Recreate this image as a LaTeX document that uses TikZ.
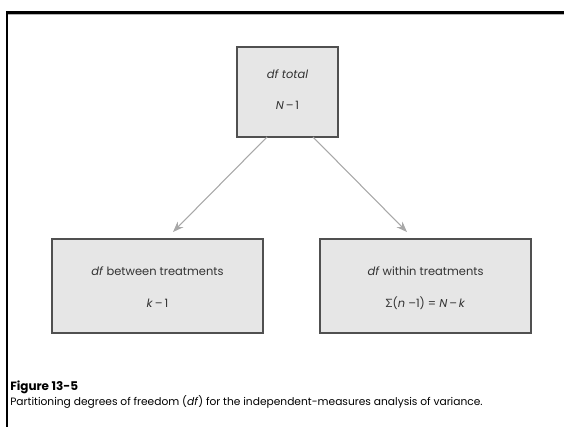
\documentclass[tikz,border=0pt]{standalone}
\usepackage{fontspec}
\setmainfont{Poppins}
\newfontfamily\grk{Lato}
\usetikzlibrary{arrows.meta}
\definecolor{boxfill}{HTML}{E6E6E6}
\definecolor{boxline}{HTML}{505050}
\definecolor{arrowgray}{HTML}{A8A8A8}
\definecolor{txt}{HTML}{333333}
\begin{document}
\begin{tikzpicture}[x=0.75pt,y=-0.75pt,
  dfbox/.style={draw=boxline,fill=boxfill,line width=0.9pt,inner sep=0pt},
  lbl/.style={text=txt,font=\fontsize{8.6}{10}\selectfont,inner sep=0pt},
  arr/.style={draw=arrowgray,line width=0.8pt,-{Stealth[length=8pt,width=6pt]}}]
\useasboundingbox (0,0) rectangle (564,427);
% frame
\draw[line width=2.2pt,black] (7,12.5) -- (564,12.5);
\draw[line width=0.8pt,gray!60] (8,14.6) -- (564,14.6);
\draw[line width=2.2pt,black] (7,11.4) -- (7,427);
% boxes
\node[dfbox,minimum width=101*0.75pt,minimum height=90*0.75pt] (tot) at (287.5,92) {};
\node[dfbox,minimum width=211*0.75pt,minimum height=94*0.75pt] (bet) at (157.5,286) {};
\node[dfbox,minimum width=211*0.75pt,minimum height=94*0.75pt] (wit) at (425.5,286) {};
% texts
\node[lbl] (t1) at (287.5,74) {\textit{df total}};
\node[lbl] (t2) at (287.5,105) {\textit{N}\,–\,1};
\node[lbl] (b1) at (157.5,271) {\textit{df} between treatments};
\node[lbl] (b2) at (157.5,303) {\textit{k}\,–\,1};
\node[lbl] (w1) at (425.5,271) {\textit{df} within treatments};
\node[lbl] (w2) at (425.5,303) {{\grk Σ}(\textit{n} –1) = \textit{N}\,–\,\textit{k}};
% arrows
\coordinate (a1) at (267,137);
\coordinate (a2) at (313,137);
\coordinate (e1) at (173,232);
\coordinate (e2) at (407,232);
\draw[arr] (a1) -- (e1);
\draw[arr] (a2) -- (e2);
% caption
\node[anchor=base west,inner sep=0pt,font=\fontsize{9}{10}\bfseries\selectfont] (cap1) at (10,391) {Figure 13-5};
\node[anchor=base west,inner sep=0pt,font=\fontsize{8}{9}\selectfont] (cap2) at (10,406) {Partitioning degrees of freedom (\textit{df}) for the independent-measures analysis of variance.};
\end{tikzpicture}
\end{document}
